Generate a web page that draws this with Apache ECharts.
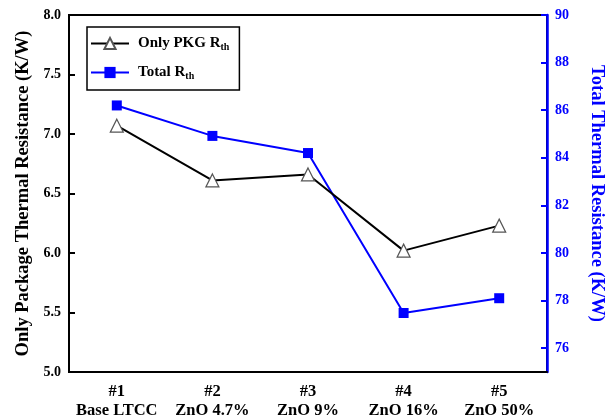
<!DOCTYPE html>
<html>
<head>
<meta charset="utf-8">
<script src="https://cdn.jsdelivr.net/npm/echarts@6/dist/echarts.min.js"></script>
<style>
  html, body { margin: 0; padding: 0; background: #fff; }
  #chart { width: 610px; height: 419px; }
</style>
</head>
<body>
<div id="chart"></div>
<script>
// sample numbers and names
const samples = ['#1', '#2', '#3', '#4', '#5']
const compositions = ['Base LTCC', 'ZnO 4.7%', 'ZnO 9%', 'ZnO 16%', 'ZnO 50%']
// package-only thermal resistance, K/W (left axis)
const pkgRth = [7.07, 6.61, 6.66, 6.02, 6.23]
// total thermal resistance, K/W (right axis)
const totalRth = [86.2, 84.92, 84.2, 77.48, 78.1]
const rightTicks = [76, 78, 80, 82, 84, 86, 88, 90]

const FONT = '"Liberation Serif", "Times New Roman", serif'
const BLUE = '#0000ff'

const chart = echarts.init(document.getElementById('chart'))

const legendRich = {
  a: { fontFamily: FONT, fontWeight: 'bold', fontSize: 15, color: '#000', lineHeight: 16 },
  s: { fontFamily: FONT, fontWeight: 'bold', fontSize: 10, color: '#000', lineHeight: 16, padding: [7, 0, 0, 0] }
}

chart.setOption({
  animation: false,
  grid: {
    left: 69, right: 63, top: 15, bottom: 47,
    outerBoundsMode: 'none',
    show: true, borderColor: '#000', borderWidth: 2, backgroundColor: 'transparent'
  },
  legend: {
    left: 87, top: 27,
    orient: 'vertical',
    padding: [8, 10, 9, 3],
    itemGap: 12,
    itemWidth: 38, itemHeight: 14,
    borderColor: '#000', borderWidth: 1.5,
    data: ['pkg', 'total'],
    formatter: function (name) {
      return name === 'pkg' ? '{a|Only PKG R}{s|th}' : '{a|Total R}{s|th}'
    },
    textStyle: { rich: legendRich, padding: [0, 0, 0, 4] }
  },
  xAxis: {
    type: 'category',
    data: samples,
    boundaryGap: true,
    axisLine: { lineStyle: { color: '#000', width: 2 } },
    axisTick: { alignWithLabel: true, inside: true, length: 6, lineStyle: { color: '#000', width: 2 } },
    axisLabel: {
      interval: 0,
      margin: 10,
      fontFamily: FONT, fontWeight: 'bold', fontSize: 16.5, color: '#000', lineHeight: 19,
      formatter: function (v, i) { return v + '\n' + compositions[i] }
    },
    splitLine: { show: false }
  },
  yAxis: [
    {
      type: 'value',
      min: 5, max: 8, interval: 0.5,
      name: 'Only Package Thermal Resistance (K/W)',
      nameLocation: 'middle', nameGap: 33,
      nameTextStyle: { fontFamily: FONT, fontWeight: 'bold', fontSize: 18.5, color: '#000' },
      axisLine: { show: true, lineStyle: { color: '#000', width: 2 } },
      axisTick: { show: true, inside: true, length: 6, lineStyle: { color: '#000', width: 2 } },
      axisLabel: {
        margin: 8,
        fontFamily: FONT, fontWeight: 'bold', fontSize: 14, color: '#000',
        formatter: function (v) { return v.toFixed(1) }
      },
      splitLine: { show: false }
    },
    {
      type: 'value',
      position: 'right',
      min: 75, max: 90,
      name: 'Total Thermal Resistance (K/W)',
      nameLocation: 'middle', nameGap: 40, nameRotate: -90,
      nameTextStyle: { fontFamily: FONT, fontWeight: 'bold', fontSize: 18.5, color: BLUE },
      axisLine: { show: true, lineStyle: { color: BLUE, width: 2.5 } },
      axisTick: { show: true, inside: true, length: 6, customValues: rightTicks, lineStyle: { color: BLUE, width: 2 } },
      axisLabel: {
        margin: 8, customValues: rightTicks,
        fontFamily: FONT, fontWeight: 'bold', fontSize: 14, color: BLUE
      },
      splitLine: { show: false }
    }
  ],
  series: [
    {
      name: 'pkg',
      type: 'line',
      yAxisIndex: 0,
      data: pkgRth,
      symbol: 'triangle',
      symbolSize: 13,
      lineStyle: { color: '#000', width: 2 },
      itemStyle: { color: '#fff', borderColor: '#555', borderWidth: 1.2 },
      z: 3
    },
    {
      name: 'total',
      type: 'line',
      yAxisIndex: 1,
      data: totalRth,
      symbol: 'rect',
      symbolSize: 10,
      lineStyle: { color: BLUE, width: 2 },
      itemStyle: { color: BLUE, borderColor: BLUE, borderWidth: 0 },
      z: 2
    }
  ]
})
</script>
</body>
</html>
